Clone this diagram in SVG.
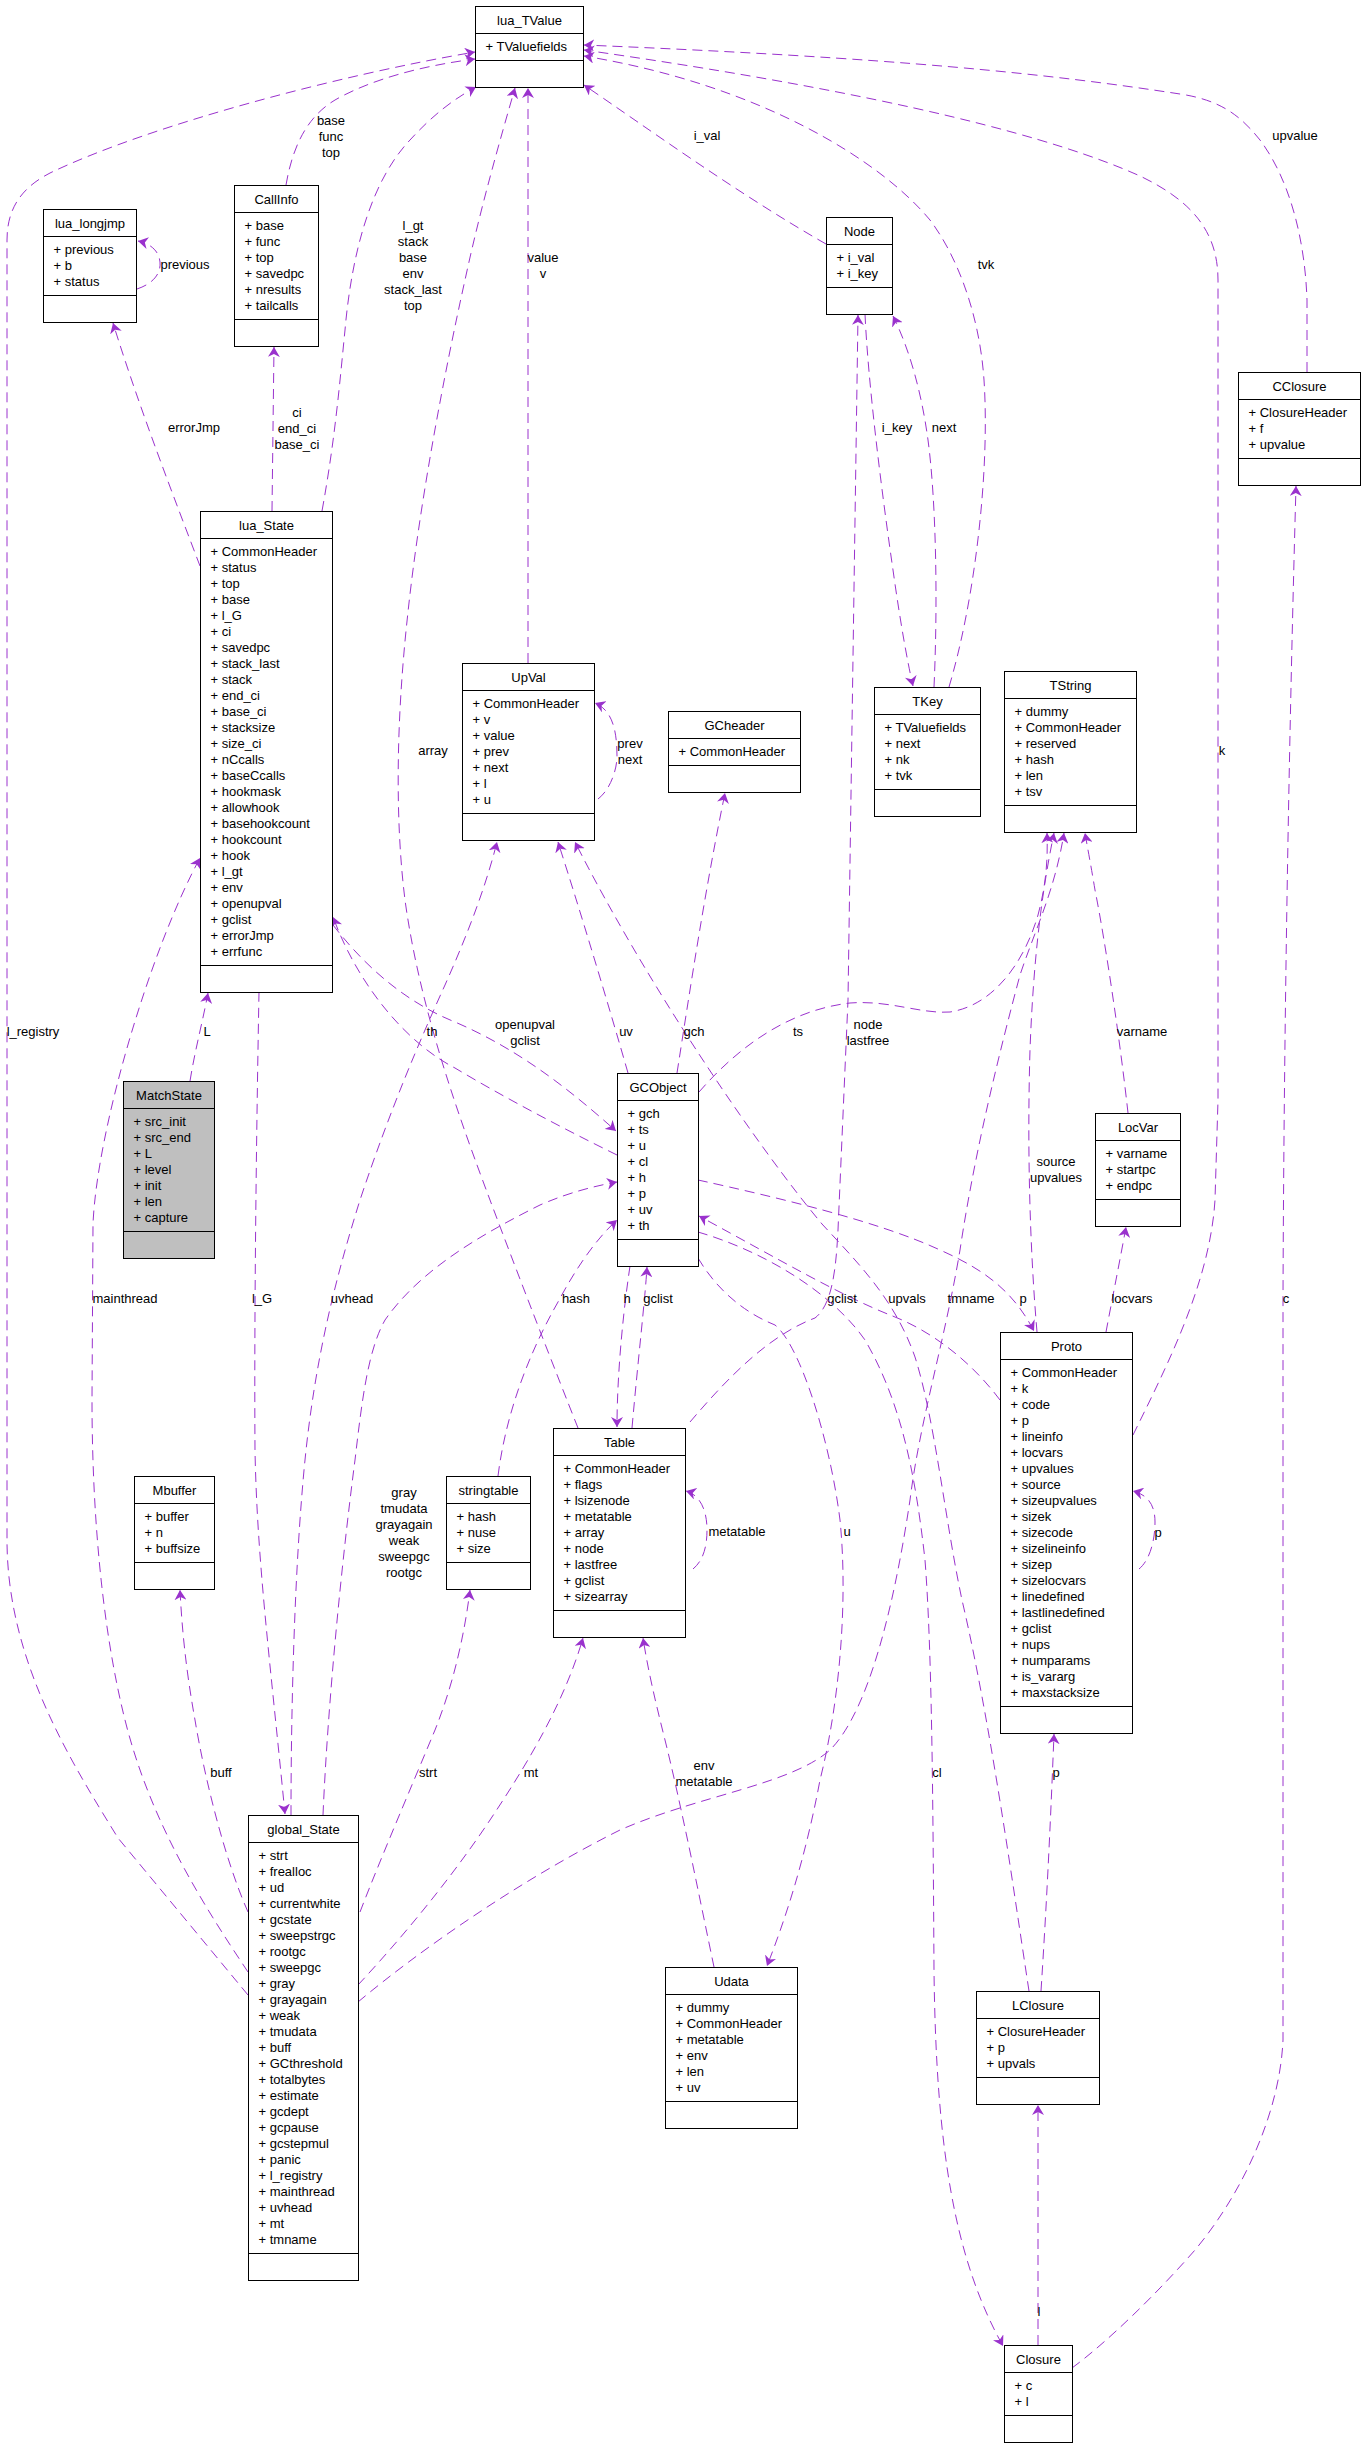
<svg xmlns="http://www.w3.org/2000/svg" width="1366" height="2448" viewBox="0 0 1366 2448">
<style>
text{font-family:"Liberation Sans",Arial,sans-serif;font-size:13px;fill:#000}
.n rect{fill:#fff;stroke:#000;stroke-width:1}
.n.g rect{fill:#bfbfbf}
.n line{stroke:#000;stroke-width:1}
.t{text-anchor:middle}
.e path{fill:none;stroke:#9a32cd;stroke-width:1;stroke-dasharray:10,6;marker-end:url(#ah)}
.e text{text-anchor:middle}
</style>
<defs>
<marker id="ah" viewBox="0 0 10 12" refX="10" refY="6" markerWidth="10" markerHeight="12" markerUnits="userSpaceOnUse" orient="auto">
<path d="M0,0 L10,6 L0,12 L3,6 z" fill="#9a32cd" stroke="none"/>
</marker>
</defs>
<rect width="1366" height="2448" fill="#fff"/>

<g id="edges" class="e">
<g><path d="M248,1995 L118,1838 C70,1760 7,1660 7,1540 L7,240 C7,205 25,186 50,173 C150,125 340,75 475,52"/><text x="33" y="1036">l_registry</text></g>
<g><path d="M286,185 C292,150 305,118 335,100 C370,80 420,66 475,59"/><text x="331" y="124.5">base</text><text x="331" y="140.5">func</text><text x="331" y="156.5">top</text></g>
<g><path d="M322,511 C335,440 340,380 345,330 C352,250 372,180 410,140 C432,116 452,100 476,87"/><text x="413" y="229.5">l_gt</text><text x="413" y="245.5">stack</text><text x="413" y="261.5">base</text><text x="413" y="277.5">env</text><text x="413" y="293.5">stack_last</text><text x="413" y="309.5">top</text></g>
<g><path d="M528,663 L528,88"/><text x="543" y="261.5">value</text><text x="543" y="277.5">v</text></g>
<g><path d="M578,1428 C555,1370 520,1280 490,1200 C460,1120 420,1010 405,900 C395,820 396,720 408,612 C420,500 445,370 465,280 C480,210 500,140 515,88"/><text x="433" y="755">array</text></g>
<g><path d="M826,244 C740,195 650,130 584,85"/><text x="707" y="140">i_val</text></g>
<g><path d="M949,687 C975,600 990,470 984,380 C980,320 960,260 930,220 C880,160 760,85 584,56"/><text x="986" y="269">tvk</text></g>
<g><path d="M1133,1435 C1170,1360 1210,1280 1215,1200 L1218,1100 L1218,280 C1218,230 1190,200 1140,176 C1060,140 900,95 584,50"/><text x="1222" y="755">k</text></g>
<g><path d="M1307,372 L1307,300 C1305,240 1290,180 1260,140 C1240,115 1220,100 1180,94 C1050,74 900,58 584,45"/><text x="1295" y="140">upvalue</text></g>
<g><path d="M137,289 C155,283 161,272 160,262 C159,252 152,244 138,241"/><text x="185" y="269">previous</text></g>
<g><path d="M200,566 C175,500 140,410 113,323"/><text x="194" y="432">errorJmp</text></g>
<g><path d="M272,511 L274,347"/><text x="297" y="416.5">ci</text><text x="297" y="432.5">end_ci</text><text x="297" y="448.5">base_ci</text></g>
<g><path d="M934,687 C938,600 936,500 928,440 C922,395 910,350 893,316"/><text x="944" y="432">next</text></g>
<g><path d="M865,314 C868,380 880,480 893,570 C900,620 907,660 913,686"/><text x="897" y="432">i_key</text></g>
<g><path d="M690,1422 C730,1375 770,1335 815,1318 C832,1305 836,1270 838,1230 L848,1000 L858,315"/><text x="868" y="1028.5">node</text><text x="868" y="1044.5">lastfree</text></g>
<g><path d="M598,799 C610,790 617,770 617,756 C617,730 612,710 595,703"/><text x="630" y="747.5">prev</text><text x="630" y="763.5">next</text></g>
<g><path d="M628,1073 C610,1010 580,910 558,842"/><text x="626" y="1036">uv</text></g>
<g><path d="M1029,1991 C1012,1880 990,1720 962,1600 C945,1520 935,1420 915,1357 C895,1300 860,1265 822,1224 C760,1150 650,990 575,842"/><text x="907" y="1302.5">upvals</text></g>
<g><path d="M291,1815 C291,1700 295,1560 305,1460 C315,1360 335,1280 360,1200 C390,1110 420,1040 445,985 C465,940 485,890 497,842"/><text x="352" y="1302.5">uvhead</text></g>
<g><path d="M677,1073 C690,990 705,890 725,793"/><text x="694" y="1036">gch</text></g>
<g><path d="M699,1092 C740,1045 790,1010 850,1003 C890,1000 920,1014 950,1012 C995,1005 1025,960 1038,915 C1046,885 1048,860 1047,833"/><text x="798" y="1036">ts</text></g>
<g><path d="M1037,1332 C1030,1250 1027,1150 1030,1050 C1033,970 1040,900 1054,833"/><text x="1056" y="1165.5">source</text><text x="1056" y="1181.5">upvalues</text></g>
<g><path d="M358,2002 C420,1950 520,1880 620,1830 C700,1795 790,1785 830,1750 C870,1710 895,1600 910,1500 C920,1420 945,1340 960,1250 C975,1150 1000,1050 1020,975 C1035,930 1055,890 1064,833"/><text x="971" y="1302.5">tmname</text></g>
<g><path d="M1128,1113 C1120,1040 1105,940 1095,890 C1090,860 1087,845 1085,833"/><text x="1142" y="1036">varname</text></g>
<g><path d="M1106,1332 C1112,1300 1120,1260 1126,1227"/><text x="1132" y="1302.5">locvars</text></g>
<g><path d="M698,1180 C780,1198 880,1222 940,1250 C990,1272 1015,1295 1034,1331"/><text x="1023" y="1302.5">p</text></g>
<g><path d="M1000,1400 C970,1360 930,1330 890,1315 C840,1295 780,1260 699,1216"/><text x="842" y="1302.5">gclist</text></g>
<g><path d="M698,1258 C720,1295 750,1315 775,1325 C800,1345 830,1440 840,1520 C848,1600 840,1700 820,1780 C805,1860 785,1920 767,1966"/><text x="847" y="1536">u</text></g>
<g><path d="M698,1232 C760,1250 830,1290 865,1340 C900,1400 915,1470 925,1560 C932,1650 933,1800 934,1970 C936,2150 955,2260 1003,2346"/><text x="937" y="1776.5">cl</text></g>
<g><path d="M1038,2345 L1038,2105"/><text x="1039" y="2315.5">l</text></g>
<g><path d="M1041,1991 C1046,1914 1050,1836 1054,1734"/><text x="1056" y="1776.5">p</text></g>
<g><path d="M1139,1569 C1150,1560 1155,1540 1155,1522 C1155,1505 1148,1495 1133,1491"/><text x="1158" y="1537">p</text></g>
<g><path d="M1072,2368 C1110,2340 1160,2290 1195,2250 C1245,2190 1280,2110 1283,2040 L1283,1300 C1284,1000 1290,700 1296,486"/><text x="1286" y="1302.5">c</text></g>
<g><path d="M693,1569 C704,1560 707,1545 707,1530 C707,1510 700,1495 686,1491"/><text x="737" y="1536">metatable</text></g>
<g><path d="M630,1266 C622,1320 617,1380 617,1427"/><text x="627" y="1302.5">h</text></g>
<g><path d="M632,1428 C638,1360 645,1300 647,1267"/><text x="658" y="1302.5">gclist</text></g>
<g><path d="M498,1476 C505,1420 525,1360 558,1302 C575,1270 595,1240 617,1220"/><text x="576" y="1302.5">hash</text></g>
<g><path d="M323,1815 C328,1700 342,1560 355,1460 C362,1400 368,1350 385,1320 C420,1270 480,1235 540,1205 C570,1192 595,1186 617,1182"/><text x="404" y="1496.5">gray</text><text x="404" y="1512.5">tmudata</text><text x="404" y="1528.5">grayagain</text><text x="404" y="1544.5">weak</text><text x="404" y="1560.5">sweepgc</text><text x="404" y="1576.5">rootgc</text></g>
<g><path d="M358,1985 C400,1940 450,1880 490,1820 C530,1760 565,1700 583,1638"/><text x="531" y="1776.5">mt</text></g>
<g><path d="M714,1967 C700,1900 680,1800 665,1740 C655,1700 648,1670 643,1638"/><text x="704" y="1769.5">env</text><text x="704" y="1785.5">metatable</text></g>
<g><path d="M360,1912 C380,1860 410,1790 435,1730 C455,1680 465,1630 470,1590"/><text x="428" y="1776.5">strt</text></g>
<g><path d="M248,1912 C225,1860 205,1780 195,1720 C186,1670 182,1630 180,1590"/><text x="221" y="1776.5">buff</text></g>
<g><path d="M259,992 C257,1100 254,1300 255,1450 C257,1560 270,1660 285,1814"/><text x="262" y="1302.5">l_G</text></g>
<g><path d="M248,1972 C200,1900 150,1820 125,1720 C100,1620 92,1500 92,1400 L93,1224 C97,1130 150,950 200,858"/><text x="125" y="1302.5">mainthread</text></g>
<g><path d="M190,1081 C195,1050 203,1020 208,993"/><text x="207" y="1036">L</text></g>
<g><path d="M333,925 C360,960 400,1000 455,1022 C520,1050 570,1090 616,1131"/><text x="525" y="1028.5">openupval</text><text x="525" y="1044.5">gclist</text></g>
<g><path d="M617,1155 C560,1127 500,1095 455,1068 C410,1045 360,990 333,917"/><text x="432" y="1036">th</text></g>
</g>

<g id="lua_TValue" class="n" transform="translate(475.5,6.5)"><rect width="108" height="81"/><text class="t" x="54" y="18">lua_TValue</text><line x1="0" y1="27" x2="108" y2="27"/><text x="10" y="44">+ TValuefields</text><line x1="0" y1="54" x2="108" y2="54"/></g>

<g id="CallInfo" class="n" transform="translate(234.5,185.5)"><rect width="84" height="161"/><text class="t" x="42" y="18">CallInfo</text><line x1="0" y1="27" x2="84" y2="27"/><text x="10" y="44">+ base<tspan x="10" dy="16">+ func</tspan><tspan x="10" dy="16">+ top</tspan><tspan x="10" dy="16">+ savedpc</tspan><tspan x="10" dy="16">+ nresults</tspan><tspan x="10" dy="16">+ tailcalls</tspan></text><line x1="0" y1="134" x2="84" y2="134"/></g>

<g id="lua_longjmp" class="n" transform="translate(43.5,209.5)"><rect width="93" height="113"/><text class="t" x="46.5" y="18">lua_longjmp</text><line x1="0" y1="27" x2="93" y2="27"/><text x="10" y="44">+ previous<tspan x="10" dy="16">+ b</tspan><tspan x="10" dy="16">+ status</tspan></text><line x1="0" y1="86" x2="93" y2="86"/></g>

<g id="lua_State" class="n" transform="translate(200.5,511.5)"><rect width="132" height="481"/><text class="t" x="66" y="18">lua_State</text><line x1="0" y1="27" x2="132" y2="27"/><text x="10" y="44">+ CommonHeader<tspan x="10" dy="16">+ status</tspan><tspan x="10" dy="16">+ top</tspan><tspan x="10" dy="16">+ base</tspan><tspan x="10" dy="16">+ l_G</tspan><tspan x="10" dy="16">+ ci</tspan><tspan x="10" dy="16">+ savedpc</tspan><tspan x="10" dy="16">+ stack_last</tspan><tspan x="10" dy="16">+ stack</tspan><tspan x="10" dy="16">+ end_ci</tspan><tspan x="10" dy="16">+ base_ci</tspan><tspan x="10" dy="16">+ stacksize</tspan><tspan x="10" dy="16">+ size_ci</tspan><tspan x="10" dy="16">+ nCcalls</tspan><tspan x="10" dy="16">+ baseCcalls</tspan><tspan x="10" dy="16">+ hookmask</tspan><tspan x="10" dy="16">+ allowhook</tspan><tspan x="10" dy="16">+ basehookcount</tspan><tspan x="10" dy="16">+ hookcount</tspan><tspan x="10" dy="16">+ hook</tspan><tspan x="10" dy="16">+ l_gt</tspan><tspan x="10" dy="16">+ env</tspan><tspan x="10" dy="16">+ openupval</tspan><tspan x="10" dy="16">+ gclist</tspan><tspan x="10" dy="16">+ errorJmp</tspan><tspan x="10" dy="16">+ errfunc</tspan></text><line x1="0" y1="454" x2="132" y2="454"/></g>

<g id="Node" class="n" transform="translate(826.5,217.5)"><rect width="66" height="97"/><text class="t" x="33" y="18">Node</text><line x1="0" y1="27" x2="66" y2="27"/><text x="10" y="44">+ i_val<tspan x="10" dy="16">+ i_key</tspan></text><line x1="0" y1="70" x2="66" y2="70"/></g>

<g id="CClosure" class="n" transform="translate(1238.5,372.5)"><rect width="122" height="113"/><text class="t" x="61" y="18">CClosure</text><line x1="0" y1="27" x2="122" y2="27"/><text x="10" y="44">+ ClosureHeader<tspan x="10" dy="16">+ f</tspan><tspan x="10" dy="16">+ upvalue</tspan></text><line x1="0" y1="86" x2="122" y2="86"/></g>

<g id="UpVal" class="n" transform="translate(462.5,663.5)"><rect width="132" height="177"/><text class="t" x="66" y="18">UpVal</text><line x1="0" y1="27" x2="132" y2="27"/><text x="10" y="44">+ CommonHeader<tspan x="10" dy="16">+ v</tspan><tspan x="10" dy="16">+ value</tspan><tspan x="10" dy="16">+ prev</tspan><tspan x="10" dy="16">+ next</tspan><tspan x="10" dy="16">+ l</tspan><tspan x="10" dy="16">+ u</tspan></text><line x1="0" y1="150" x2="132" y2="150"/></g>

<g id="GCheader" class="n" transform="translate(668.5,711.5)"><rect width="132" height="81"/><text class="t" x="66" y="18">GCheader</text><line x1="0" y1="27" x2="132" y2="27"/><text x="10" y="44">+ CommonHeader</text><line x1="0" y1="54" x2="132" y2="54"/></g>

<g id="TKey" class="n" transform="translate(874.5,687.5)"><rect width="106" height="129"/><text class="t" x="53" y="18">TKey</text><line x1="0" y1="27" x2="106" y2="27"/><text x="10" y="44">+ TValuefields<tspan x="10" dy="16">+ next</tspan><tspan x="10" dy="16">+ nk</tspan><tspan x="10" dy="16">+ tvk</tspan></text><line x1="0" y1="102" x2="106" y2="102"/></g>

<g id="TString" class="n" transform="translate(1004.5,671.5)"><rect width="132" height="161"/><text class="t" x="66" y="18">TString</text><line x1="0" y1="27" x2="132" y2="27"/><text x="10" y="44">+ dummy<tspan x="10" dy="16">+ CommonHeader</tspan><tspan x="10" dy="16">+ reserved</tspan><tspan x="10" dy="16">+ hash</tspan><tspan x="10" dy="16">+ len</tspan><tspan x="10" dy="16">+ tsv</tspan></text><line x1="0" y1="134" x2="132" y2="134"/></g>

<g id="LocVar" class="n" transform="translate(1095.5,1113.5)"><rect width="85" height="113"/><text class="t" x="42.5" y="18">LocVar</text><line x1="0" y1="27" x2="85" y2="27"/><text x="10" y="44">+ varname<tspan x="10" dy="16">+ startpc</tspan><tspan x="10" dy="16">+ endpc</tspan></text><line x1="0" y1="86" x2="85" y2="86"/></g>

<g id="MatchState" class="n g" transform="translate(123.5,1081.5)"><rect width="91" height="177"/><text class="t" x="45.5" y="18">MatchState</text><line x1="0" y1="27" x2="91" y2="27"/><text x="10" y="44">+ src_init<tspan x="10" dy="16">+ src_end</tspan><tspan x="10" dy="16">+ L</tspan><tspan x="10" dy="16">+ level</tspan><tspan x="10" dy="16">+ init</tspan><tspan x="10" dy="16">+ len</tspan><tspan x="10" dy="16">+ capture</tspan></text><line x1="0" y1="150" x2="91" y2="150"/></g>

<g id="GCObject" class="n" transform="translate(617.5,1073.5)"><rect width="81" height="193"/><text class="t" x="40.5" y="18">GCObject</text><line x1="0" y1="27" x2="81" y2="27"/><text x="10" y="44">+ gch<tspan x="10" dy="16">+ ts</tspan><tspan x="10" dy="16">+ u</tspan><tspan x="10" dy="16">+ cl</tspan><tspan x="10" dy="16">+ h</tspan><tspan x="10" dy="16">+ p</tspan><tspan x="10" dy="16">+ uv</tspan><tspan x="10" dy="16">+ th</tspan></text><line x1="0" y1="166" x2="81" y2="166"/></g>

<g id="Proto" class="n" transform="translate(1000.5,1332.5)"><rect width="132" height="401"/><text class="t" x="66" y="18">Proto</text><line x1="0" y1="27" x2="132" y2="27"/><text x="10" y="44">+ CommonHeader<tspan x="10" dy="16">+ k</tspan><tspan x="10" dy="16">+ code</tspan><tspan x="10" dy="16">+ p</tspan><tspan x="10" dy="16">+ lineinfo</tspan><tspan x="10" dy="16">+ locvars</tspan><tspan x="10" dy="16">+ upvalues</tspan><tspan x="10" dy="16">+ source</tspan><tspan x="10" dy="16">+ sizeupvalues</tspan><tspan x="10" dy="16">+ sizek</tspan><tspan x="10" dy="16">+ sizecode</tspan><tspan x="10" dy="16">+ sizelineinfo</tspan><tspan x="10" dy="16">+ sizep</tspan><tspan x="10" dy="16">+ sizelocvars</tspan><tspan x="10" dy="16">+ linedefined</tspan><tspan x="10" dy="16">+ lastlinedefined</tspan><tspan x="10" dy="16">+ gclist</tspan><tspan x="10" dy="16">+ nups</tspan><tspan x="10" dy="16">+ numparams</tspan><tspan x="10" dy="16">+ is_vararg</tspan><tspan x="10" dy="16">+ maxstacksize</tspan></text><line x1="0" y1="374" x2="132" y2="374"/></g>

<g id="Mbuffer" class="n" transform="translate(134.5,1476.5)"><rect width="80" height="113"/><text class="t" x="40" y="18">Mbuffer</text><line x1="0" y1="27" x2="80" y2="27"/><text x="10" y="44">+ buffer<tspan x="10" dy="16">+ n</tspan><tspan x="10" dy="16">+ buffsize</tspan></text><line x1="0" y1="86" x2="80" y2="86"/></g>

<g id="stringtable" class="n" transform="translate(446.5,1476.5)"><rect width="84" height="113"/><text class="t" x="42" y="18">stringtable</text><line x1="0" y1="27" x2="84" y2="27"/><text x="10" y="44">+ hash<tspan x="10" dy="16">+ nuse</tspan><tspan x="10" dy="16">+ size</tspan></text><line x1="0" y1="86" x2="84" y2="86"/></g>

<g id="Table" class="n" transform="translate(553.5,1428.5)"><rect width="132" height="209"/><text class="t" x="66" y="18">Table</text><line x1="0" y1="27" x2="132" y2="27"/><text x="10" y="44">+ CommonHeader<tspan x="10" dy="16">+ flags</tspan><tspan x="10" dy="16">+ lsizenode</tspan><tspan x="10" dy="16">+ metatable</tspan><tspan x="10" dy="16">+ array</tspan><tspan x="10" dy="16">+ node</tspan><tspan x="10" dy="16">+ lastfree</tspan><tspan x="10" dy="16">+ gclist</tspan><tspan x="10" dy="16">+ sizearray</tspan></text><line x1="0" y1="182" x2="132" y2="182"/></g>

<g id="global_State" class="n" transform="translate(248.5,1815.5)"><rect width="110" height="465"/><text class="t" x="55" y="18">global_State</text><line x1="0" y1="27" x2="110" y2="27"/><text x="10" y="44">+ strt<tspan x="10" dy="16">+ frealloc</tspan><tspan x="10" dy="16">+ ud</tspan><tspan x="10" dy="16">+ currentwhite</tspan><tspan x="10" dy="16">+ gcstate</tspan><tspan x="10" dy="16">+ sweepstrgc</tspan><tspan x="10" dy="16">+ rootgc</tspan><tspan x="10" dy="16">+ sweepgc</tspan><tspan x="10" dy="16">+ gray</tspan><tspan x="10" dy="16">+ grayagain</tspan><tspan x="10" dy="16">+ weak</tspan><tspan x="10" dy="16">+ tmudata</tspan><tspan x="10" dy="16">+ buff</tspan><tspan x="10" dy="16">+ GCthreshold</tspan><tspan x="10" dy="16">+ totalbytes</tspan><tspan x="10" dy="16">+ estimate</tspan><tspan x="10" dy="16">+ gcdept</tspan><tspan x="10" dy="16">+ gcpause</tspan><tspan x="10" dy="16">+ gcstepmul</tspan><tspan x="10" dy="16">+ panic</tspan><tspan x="10" dy="16">+ l_registry</tspan><tspan x="10" dy="16">+ mainthread</tspan><tspan x="10" dy="16">+ uvhead</tspan><tspan x="10" dy="16">+ mt</tspan><tspan x="10" dy="16">+ tmname</tspan></text><line x1="0" y1="438" x2="110" y2="438"/></g>

<g id="Udata" class="n" transform="translate(665.5,1967.5)"><rect width="132" height="161"/><text class="t" x="66" y="18">Udata</text><line x1="0" y1="27" x2="132" y2="27"/><text x="10" y="44">+ dummy<tspan x="10" dy="16">+ CommonHeader</tspan><tspan x="10" dy="16">+ metatable</tspan><tspan x="10" dy="16">+ env</tspan><tspan x="10" dy="16">+ len</tspan><tspan x="10" dy="16">+ uv</tspan></text><line x1="0" y1="134" x2="132" y2="134"/></g>

<g id="LClosure" class="n" transform="translate(976.5,1991.5)"><rect width="123" height="113"/><text class="t" x="61.5" y="18">LClosure</text><line x1="0" y1="27" x2="123" y2="27"/><text x="10" y="44">+ ClosureHeader<tspan x="10" dy="16">+ p</tspan><tspan x="10" dy="16">+ upvals</tspan></text><line x1="0" y1="86" x2="123" y2="86"/></g>

<g id="Closure" class="n" transform="translate(1004.5,2345.5)"><rect width="68" height="97"/><text class="t" x="34" y="18">Closure</text><line x1="0" y1="27" x2="68" y2="27"/><text x="10" y="44">+ c<tspan x="10" dy="16">+ l</tspan></text><line x1="0" y1="70" x2="68" y2="70"/></g>
</svg>
